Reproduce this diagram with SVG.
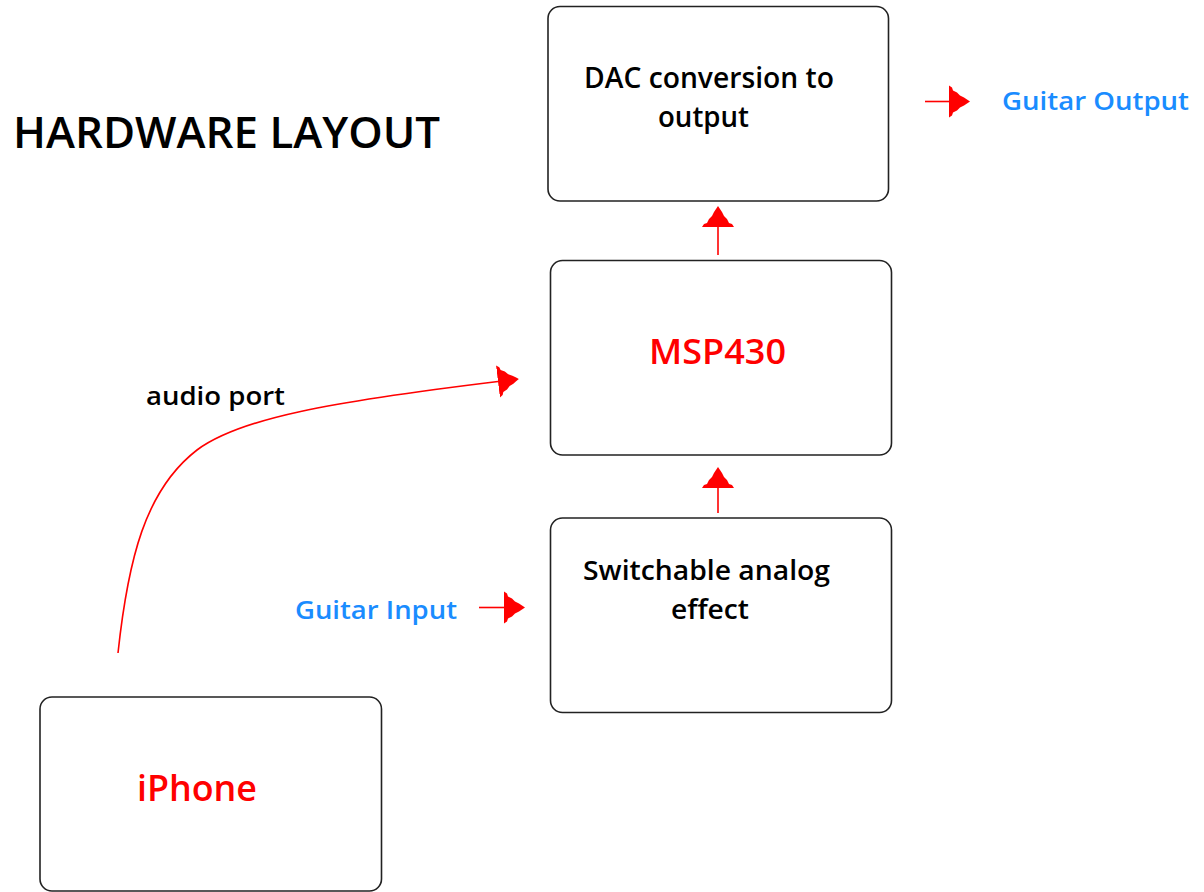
<svg xmlns="http://www.w3.org/2000/svg" width="1204" height="892" viewBox="0 0 1204 892">
<style>
.box{fill:#fff;stroke:#222;stroke-width:1.6}
.t{font-family:"Open Sans","Liberation Sans",sans-serif;font-weight:600}
.blk{fill:#000}
.red{fill:#ff0000}
.blue{fill:#1a8cff}
.con{fill:none;stroke:#ff0000;stroke-width:1.6}
.head{fill:#ff0000}
</style>
<defs>
<marker id="ah" markerUnits="userSpaceOnUse" markerWidth="24" markerHeight="36" viewBox="0 -17 24 34" refX="0" refY="0" orient="auto">
<path class="head" d="M0,-16 L3,-14 L4,-11 L8,-9 L11,-6 L15,-4 L18,-2 L21,0 L18,2 L15,4 L11,6 L8,9 L4,11 L3,14 L0,16 Z"/>
</marker>
</defs>
<rect width="1204" height="892" fill="#fff"/>
<text class="t blk" x="13" y="148" font-size="43" font-weight="700" textLength="427" lengthAdjust="spacingAndGlyphs">HARDWARE LAYOUT</text>
<g id="dac">
<rect class="box" x="548" y="6.5" width="340.5" height="194.5" rx="12"/>
<text class="t blk" x="584" y="88" font-size="28" textLength="250" lengthAdjust="spacingAndGlyphs">DAC conversion to</text>
<text class="t blk" x="658" y="127" font-size="28" textLength="91" lengthAdjust="spacingAndGlyphs">output</text>
</g>
<g id="msp430">
<rect class="box" x="550.5" y="260.5" width="341" height="194.5" rx="12"/>
<text class="t red" x="649" y="364" font-size="35" textLength="137" lengthAdjust="spacingAndGlyphs">MSP430</text>
</g>
<g id="effect">
<rect class="box" x="550.5" y="518" width="341" height="194.5" rx="12"/>
<text class="t blk" x="583" y="580" font-size="27" textLength="247" lengthAdjust="spacingAndGlyphs">Switchable analog</text>
<text class="t blk" x="671" y="619" font-size="27" textLength="78" lengthAdjust="spacingAndGlyphs">effect</text>
</g>
<g id="iphone">
<rect class="box" x="40" y="697" width="341.5" height="194" rx="12"/>
<text class="t red" x="137" y="801" font-size="36" textLength="120" lengthAdjust="spacingAndGlyphs">iPhone</text>
</g>
<g id="labels">
<text class="t blue" x="1002" y="110" font-size="25" textLength="187" lengthAdjust="spacingAndGlyphs">Guitar Output</text>
<text class="t blue" x="295" y="619" font-size="25" textLength="162" lengthAdjust="spacingAndGlyphs">Guitar Input</text>
<text class="t blk" x="146" y="405" font-size="25" textLength="139" lengthAdjust="spacingAndGlyphs">audio port</text>
</g>
<g id="connectors">
<path class="con" d="M925,101.5 L949,101.5" marker-end="url(#ah)"/>
<path class="con" d="M718,255 L718,227" marker-end="url(#ah)"/>
<path class="con" d="M718,513 L718,488" marker-end="url(#ah)"/>
<path class="con" d="M479,607.5 L504,607.5" marker-end="url(#ah)"/>
<path class="con" d="M118,653 C128,560 145,490 197,450 C240,418 330,402 498,381.5" marker-end="url(#ah)"/>
</g>
</svg>
